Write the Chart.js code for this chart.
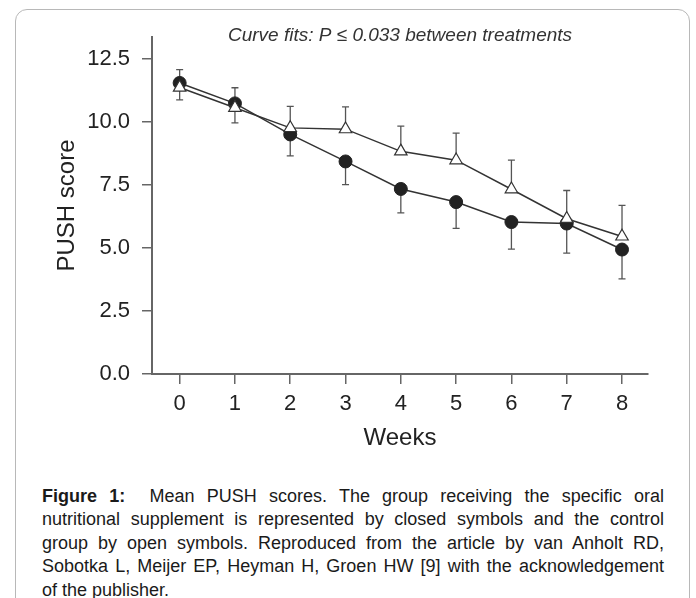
<!DOCTYPE html>
<html>
<head>
<meta charset="utf-8">
<script src="https://cdn.jsdelivr.net/npm/chart.js@4.4.1/dist/chart.umd.min.js"></script>
<style>
html,body{margin:0;padding:0;background:#fff;}
body{width:696px;height:598px;overflow:hidden;position:relative;font-family:"Liberation Sans",Arial,sans-serif;}
#frame{position:absolute;left:15px;top:9px;width:675px;height:640px;border:1px solid #b8b8b8;border-radius:12px;box-sizing:border-box;}
#wrap{position:absolute;left:0;top:0;width:696px;height:470px;}
#caption{position:absolute;left:42px;top:484.5px;width:622px;font-size:18px;line-height:23.5px;color:#1a1a1a;}
#caption .ln{display:block;text-align:justify;text-align-last:justify;white-space:normal;}
#caption .last{text-align:left;text-align-last:left;}
</style>
</head>
<body>
<div id="frame"></div>
<div id="wrap"><canvas id="c" width="696" height="470"></canvas></div>
<div id="caption">
<span class="ln"><b>Figure 1:</b>&nbsp; Mean PUSH scores. The group receiving the specific oral</span>
<span class="ln">nutritional supplement is represented by closed symbols and the control</span>
<span class="ln">group by open symbols. Reproduced from the article by van Anholt RD,</span>
<span class="ln">Sobotka L, Meijer EP, Heyman H, Groen HW [9] with the acknowledgement</span>
<span class="ln last">of the publisher.</span>
</div>
<script>
// ---- data ----
const weeks = [0, 1, 2, 3, 4, 5, 6, 7, 8];
const controlMean = [11.35, 10.55, 9.75, 9.70, 8.82, 8.47, 7.32, 6.15, 5.45];      // open triangles
const controlUpper = [12.06, 11.34, 10.60, 10.58, 9.82, 9.54, 8.47, 7.27, 6.68];   // upper error-bar ends
const supplementMean = [11.53, 10.72, 9.49, 8.42, 7.33, 6.81, 6.02, 5.96, 4.93];   // closed circles
const supplementLower = [10.86, 9.95, 8.64, 7.50, 6.38, 5.77, 4.95, 4.79, 3.77];  // lower error-bar ends
const yTicks = [0, 2.5, 5, 7.5, 10, 12.5];
const xTicks = [0, 1, 2, 3, 4, 5, 6, 7, 8];
const noteText = 'Curve fits: P \u2264 0.033 between treatments';
const xTitle = 'Weeks';
const yTitle = 'PUSH score';

const FONT = '"Liberation Sans", Arial, sans-serif';

const errorBars = {
  id: 'errorBars',
  beforeDatasetsDraw(chart) {
    const {ctx, scales: {x, y}} = chart;
    ctx.save();
    ctx.strokeStyle = '#555';
    ctx.lineWidth = 1.3;
    weeks.forEach((w, i) => {
      const px = x.getPixelForValue(w);
      [[controlMean[i], controlUpper[i]], [supplementMean[i], supplementLower[i]]].forEach(([m, e]) => {
        const y0 = y.getPixelForValue(m), y1 = y.getPixelForValue(e);
        ctx.beginPath();
        ctx.moveTo(px, y0); ctx.lineTo(px, y1);
        ctx.moveTo(px - 3.5, y1); ctx.lineTo(px + 3.5, y1);
        ctx.stroke();
      });
    });
    ctx.restore();
  }
};

const topNote = {
  id: 'topNote',
  afterDraw(chart) {
    const {ctx, chartArea} = chart;
    ctx.save();
    ctx.font = 'italic 19px ' + FONT;
    ctx.fillStyle = '#333';
    ctx.textAlign = 'center';
    ctx.textBaseline = 'alphabetic';
    ctx.fillText(noteText, (chartArea.left + chartArea.right) / 2, 40.5);
    ctx.restore();
  }
};

new Chart(document.getElementById('c'), {
  type: 'line',
  data: {
    datasets: [
      {
        label: 'Control',
        data: weeks.map((w, i) => ({x: w, y: controlMean[i]})),
        borderColor: '#333',
        borderWidth: 1.5,
        pointStyle: 'triangle',
        pointRadius: 7.2,
        pointBackgroundColor: '#fff',
        pointBorderColor: '#333',
        pointBorderWidth: 1.2,
        tension: 0
      },
      {
        label: 'Supplement',
        data: weeks.map((w, i) => ({x: w, y: supplementMean[i]})),
        borderColor: '#333',
        borderWidth: 1.5,
        pointStyle: 'circle',
        pointRadius: 6.5,
        pointBackgroundColor: '#222',
        pointBorderColor: '#222',
        pointBorderWidth: 1,
        tension: 0
      }
    ]
  },
  options: {
    responsive: false,
    animation: false,
    events: [],
    devicePixelRatio: 1,
    layout: {padding: {left: 0, right: 48, top: 37, bottom: 0}},
    plugins: {legend: {display: false}, tooltip: {enabled: false}, title: {display: false}},
    scales: {
      x: {
        type: 'linear',
        min: -0.5,
        max: 8.47,
        afterBuildTicks: s => { s.ticks = xTicks.map(v => ({value: v})); },
        afterFit: s => { s.height = 96; },
        grid: {display: true, drawOnChartArea: false, drawTicks: true, tickLength: 10, color: '#666', lineWidth: 1.5},
        border: {display: true, color: '#666', width: 2},
        ticks: {color: '#222', font: {family: FONT, size: 22}, padding: 7, callback: v => String(v)},
        title: {display: true, text: xTitle, color: '#222', font: {family: FONT, size: 24}, padding: {top: 0, bottom: 17}}
      },
      y: {
        type: 'linear',
        min: 0,
        max: 13.35,
        afterBuildTicks: s => { s.ticks = yTicks.map(v => ({value: v})); },
        afterFit: s => { s.width = 152; },
        grid: {display: true, drawOnChartArea: false, drawTicks: true, tickLength: 10, color: '#666', lineWidth: 1.5},
        border: {display: true, color: '#666', width: 2},
        ticks: {color: '#222', font: {family: FONT, size: 22}, padding: 12, callback: v => Number(v).toFixed(1)},
        title: {display: true, text: yTitle, color: '#222', font: {family: FONT, size: 24}, padding: {top: 53, bottom: 0}}
      }
    }
  },
  plugins: [errorBars, topNote]
});
</script>
</body>
</html>
